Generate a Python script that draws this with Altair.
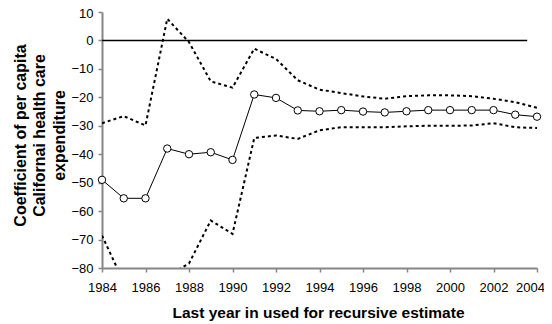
import altair as alt
import pandas as pd

years = list(range(1984, 2005))
coef = [-49, -55.5, -55.5, -38, -40, -39.3, -42, -19, -20.2, -24.6, -24.9,
        -24.5, -25, -25.3, -24.9, -24.5, -24.5, -24.5, -24.5, -26.1, -26.8]
upper = [-29.1, -26.6, -29.9, 7.6, -0.6, -14.4, -16.6, -2.9, -6.5, -14, -17.3,
         -18.5, -19.7, -20.5, -19.6, -19.3, -19.3, -19.6, -20.5, -21.7, -23.7]
lower = [-68.6, -85, -90, -83, -78.4, -63.3, -68, -34.3, -33.4, -34.6, -31.6,
         -30.5, -30.5, -30.5, -30.2, -30, -30, -29.9, -29.1, -30.5, -30.8]
x_ticks = list(range(1984, 2005, 2))
y_ticks = list(range(-80, 11, 10))
zero_line = {"start": 1984, "end": 2003.55, "y": 0}

df = pd.DataFrame({"year": years, "coef": coef, "upper": upper, "lower": lower})
zdf = pd.DataFrame([zero_line])

FONT = "Liberation Sans"

xscale = alt.Scale(domain=[1984, 2004], nice=False, zero=False)
yscale = alt.Scale(domain=[-80, 10], nice=False, zero=False)

xaxis = alt.Axis(values=x_ticks, format="d",
                 title="Last year in used for recursive estimate",
                 titleFontSize=15.5, titleFontWeight="bold",
                 titleFont=FONT, titleColor="black",
                 titleX=216, titleY=49, titleAlign="center",
                 titleBaseline="alphabetic",
                 labelPadding=9, labelOverlap=False,
                 labelFlush=False, labelBound=False,
                 labelOffset={"condition": {"test": "datum.value == 2004",
                                            "value": -7},
                              "value": 0})

yaxis = alt.Axis(values=y_ticks, format="d",
                 title=["Coefficient of per capita",
                        "Californai health care",
                        "expenditure"],
                 titleFontSize=16, titleFontWeight="bold",
                 titleFont=FONT, titleColor="black",
                 titleAngle=270, titleX=-77, titleY=123,
                 titleAlign="center", titleBaseline="alphabetic",
                 titleLineHeight=19.5, labelPadding=5,
                 labelOverlap=False, labelFlush=False, labelBound=False,
                 labelOffset={"condition": {"test": "datum.value == 10",
                                            "value": 1.5},
                              "value": 0})


def X(field):
    return alt.X(field, type="quantitative", scale=xscale, axis=xaxis)


def Y(field):
    return alt.Y(field, type="quantitative", scale=yscale, axis=yaxis)


zero = alt.Chart(zdf).mark_rule(color="black", strokeWidth=1.5).encode(
    x=X("start"), x2="end", y=Y("y"),
)

up = alt.Chart(df).mark_line(color="black", strokeWidth=2, strokeDash=[3, 3],
                             clip=True).encode(x=X("year"), y=Y("upper"))

lo = alt.Chart(df).mark_line(color="black", strokeWidth=2, strokeDash=[3, 3],
                             clip=True).encode(x=X("year"), y=Y("lower"))

mid = alt.Chart(df).mark_line(
    color="black", strokeWidth=1,
    point=alt.OverlayMarkDef(filled=True, fill="white", stroke="black",
                             strokeWidth=1, size=55, opacity=1),
).encode(x=X("year"), y=Y("coef"))

chart = alt.layer(zero, up, lo, mid).properties(
    width=435, height=256,
    autosize=alt.AutoSizeParams(type="none"),
    padding={"left": 94, "top": 4, "right": 7, "bottom": 53},
).configure_view(stroke=None).configure_axis(
    grid=False,
    domainColor="#868686", domainWidth=2,
    tickColor="#868686", tickWidth=1.5, tickSize=4,
    labelFont=FONT, labelFontSize=13, labelColor="black",
)

chart.save("out.html", embed_options={"renderer": "svg", "actions": False})
